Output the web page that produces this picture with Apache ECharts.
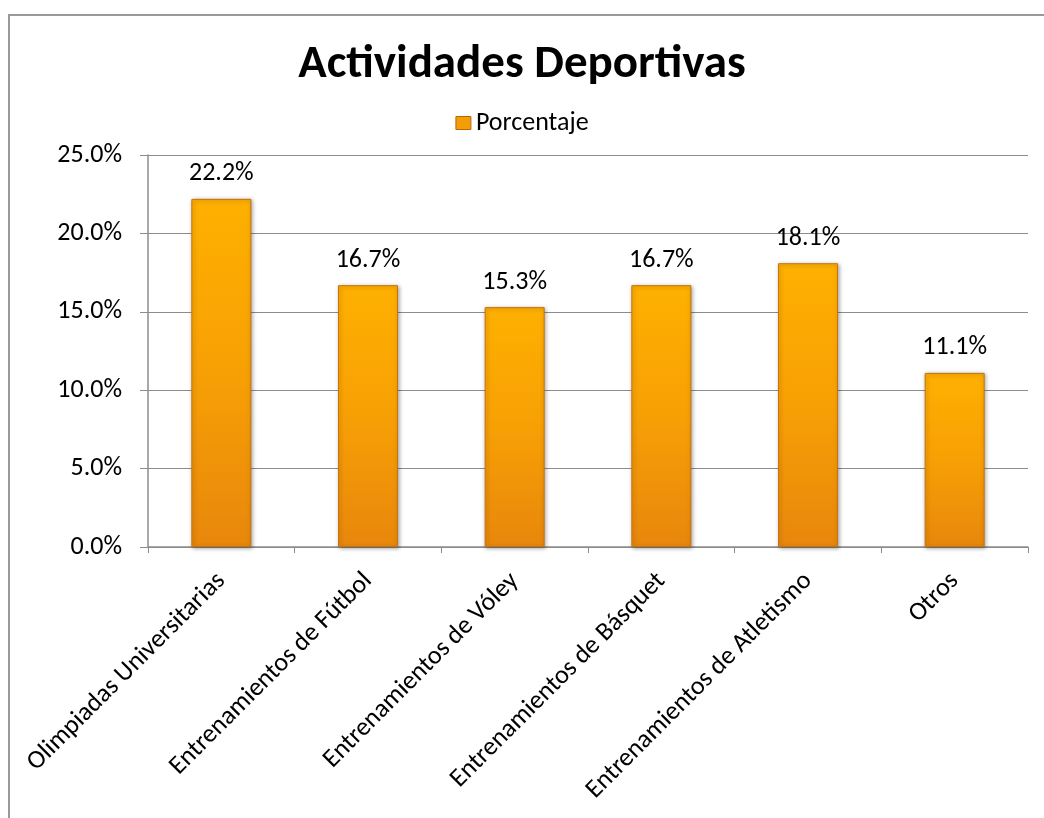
<!DOCTYPE html>
<html>
<head>
<meta charset="utf-8">
<script src="https://cdn.jsdelivr.net/npm/echarts@6/dist/echarts.min.js"></script>
<style>
html,body{margin:0;padding:0;background:#fff;}
#chart{width:1044px;height:818px;}
</style>
</head>
<body>
<div id="chart"></div>
<script>
const categories = ["Olimpiadas Universitarias","Entrenamientos de Fútbol","Entrenamientos de Vóley","Entrenamientos de Básquet","Entrenamientos de Atletismo","Otros"];
const porcentaje = [22.2, 16.7, 15.3, 16.7, 18.1, 11.1];
const seriesName = "Porcentaje";
const titleText = "Actividades Deportivas";

const font = "Carlito, Lato, 'Open Sans', sans-serif";
const chart = echarts.init(document.getElementById('chart'), null, {renderer:'canvas'});
const barGrad = new echarts.graphic.LinearGradient(0,0,0,1,[
  {offset:0,color:'#FFB000'},
  {offset:0.5,color:'#F7A005'},
  {offset:1,color:'#E8870C'}
]);
chart.setOption({
  backgroundColor:'#fff',
  animation:false,
  graphic:[{type:'rect',shape:{x:9,y:15,width:1100,height:900},style:{fill:'none',stroke:'#999',lineWidth:2},z:-1}],
  title:{text:titleText,left:'center',top:37,textStyle:{fontFamily:font,fontSize:47,fontWeight:'bold',color:'#000'}},
  legend:{top:105,left:'center',itemWidth:15,itemHeight:13,itemGap:5,
    textStyle:{fontFamily:font,fontSize:26,color:'#000'},
    data:[{name:seriesName,icon:'rect',itemStyle:{color:'#F59D05',borderColor:'#B8660A',borderWidth:1}}]},
  grid:{left:148,right:16,top:155,bottom:271},
  xAxis:{type:'category',data:categories,
    axisLine:{lineStyle:{color:'#8c8c8c',width:1.5}},
    axisTick:{show:true,alignWithLabel:false,length:6,lineStyle:{color:'#8c8c8c'}},
    axisLabel:{rotate:45,interval:0,fontFamily:font,fontSize:26,color:'#000',margin:30}},
  yAxis:{type:'value',min:0,max:25,interval:5,
    axisLine:{show:true,lineStyle:{color:'#8c8c8c',width:1.5}},
    axisTick:{show:true,length:8,lineStyle:{color:'#8c8c8c'}},
    splitLine:{lineStyle:{color:'#8c8c8c',width:1}},
    axisLabel:{formatter:v=>v.toFixed(1)+'%',fontFamily:font,fontSize:26,color:'#000',margin:26}},
  series:[{name:seriesName,type:'bar',data:porcentaje,barWidth:60,
    itemStyle:{color:barGrad,borderColor:'#C9730A',borderWidth:1,shadowColor:'rgba(0,0,0,0.35)',shadowBlur:4,shadowOffsetX:1,shadowOffsetY:1},
    label:{show:true,position:'top',distance:12,formatter:p=>p.value.toFixed(1)+'%',fontFamily:font,fontSize:26,color:'#000'}}]
});
</script>
</body>
</html>
